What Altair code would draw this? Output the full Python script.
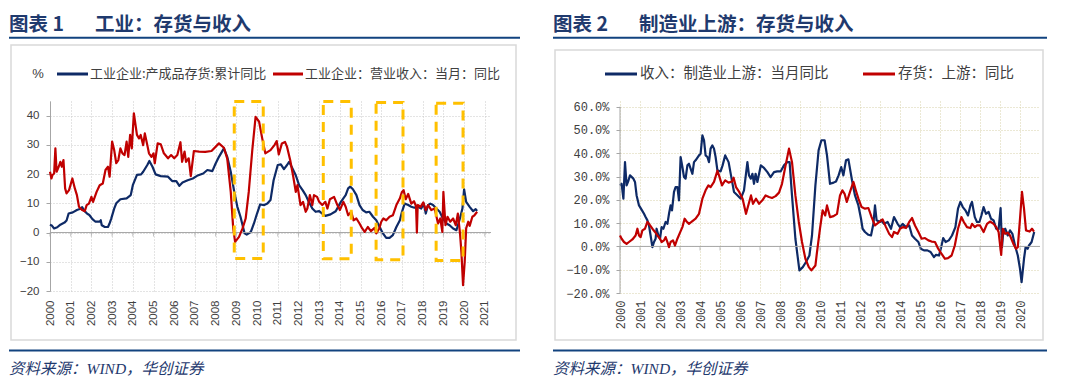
import altair as alt
import pandas as pd

# ---------------- data ----------------
# Left panel: 工业
L_INV_T = [2000.0, 2000.1, 2000.2, 2000.35, 2000.5, 2000.7, 2000.8, 2000.9, 2001.1, 2001.3, 2001.5, 2001.55,
           2001.65, 2001.8, 2001.9, 2002.05, 2002.2, 2002.4, 2002.45, 2002.5, 2002.65, 2002.8, 2002.87, 2002.95,
           2003.1, 2003.2, 2003.4, 2003.7, 2003.9, 2004.0, 2004.2, 2004.4, 2004.5, 2004.7, 2004.8, 2004.95,
           2005.1, 2005.35, 2005.7, 2005.9, 2006.1, 2006.25, 2006.4, 2006.65, 2006.9, 2007.1, 2007.4, 2007.6,
           2007.84, 2008.0, 2008.16, 2008.4, 2008.56, 2008.73, 2008.9, 2009.05, 2009.2, 2009.4, 2009.5, 2009.7,
           2009.85, 2010.0, 2010.15, 2010.35, 2010.5, 2010.65, 2010.8, 2011.0, 2011.15, 2011.3, 2011.45, 2011.55,
           2011.7, 2011.87, 2012.03, 2012.2, 2012.35, 2012.5, 2012.67, 2012.83, 2013.0, 2013.15, 2013.3, 2013.55,
           2013.8, 2014.05, 2014.28, 2014.4, 2014.5, 2014.63, 2014.8, 2014.95, 2015.1, 2015.27, 2015.43, 2015.6,
           2015.76, 2015.92, 2016.08, 2016.24, 2016.4, 2016.56, 2016.73, 2016.9, 2017.0, 2017.13, 2017.3, 2017.45,
           2017.6, 2017.77, 2017.93, 2018.05, 2018.15, 2018.26, 2018.37, 2018.5, 2018.66, 2018.82, 2018.98,
           2019.15, 2019.3, 2019.47, 2019.63, 2019.8, 2019.92, 2020.0, 2020.1, 2020.27, 2020.44, 2020.56, 2020.63]
L_INV_V = [2.7, 2.3, 1.4, 1.8, 2.7, 3.4, 4.1, 6.5, 6.9, 7.7, 8.2, 8.7,
           7.5, 6.4, 6.0, 4.6, 3.7, 3.7, 4.2, 2.5, 1.9, 1.9, 3.0, 4.6,
           8.2, 10.0, 11.4, 11.7, 12.8, 16.2, 19.7, 19.9, 20.8, 23.1, 24.5, 22.5,
           19.9, 19.3, 19.1, 17.6, 17.6, 16.0, 17.1, 17.9, 18.5, 19.4, 20.2, 21.4,
           21.0, 23.6, 25.9, 28.8, 25.9, 20.8, 13.9, 8.8, 5.4, -0.3, -0.7, 0.2,
           3.1, 6.5, 9.6, 9.4, 9.9, 11.1, 17.9, 23.1, 23.3, 21.7, 23.1, 24.2,
           22.1, 19.6, 16.2, 14.5, 12.8, 10.5, 8.2, 7.1, 7.3, 6.5, 5.7, 6.2,
           7.3, 10.5, 12.8, 15.1, 15.7, 14.8, 12.8, 9.4, 7.7, 6.9, 7.1, 5.4,
           4.2, 1.9, -0.3, -1.8, -1.8, -0.9, 1.9, 4.2, 7.1, 9.9, 9.4, 8.8,
           8.5, 8.8, 8.2, 9.9, 6.5, 9.4, 9.9, 9.4, 8.2, 7.1, 4.8,
           3.1, 2.5, 1.4, 0.8, 4.8, 8.2, 14.8, 10.5, 8.8, 7.3, 8.0, 7.4]

L_REV_T = [2000.0, 2000.07, 2000.12, 2000.2, 2000.26, 2000.32, 2000.42, 2000.5, 2000.57, 2000.65, 2000.73, 2000.8,
           2000.92, 2001.08, 2001.2, 2001.3, 2001.4, 2001.55, 2001.68, 2001.77, 2001.88, 2002.0, 2002.08, 2002.25,
           2002.4, 2002.55, 2002.68, 2002.8, 2002.88, 2003.0, 2003.1, 2003.2, 2003.3, 2003.4, 2003.5, 2003.6,
           2003.7, 2003.78, 2003.87, 2003.95, 2004.05, 2004.2, 2004.3, 2004.38, 2004.5, 2004.58, 2004.7, 2004.78,
           2004.9, 2005.0, 2005.06, 2005.2, 2005.35, 2005.5, 2005.7, 2005.85, 2006.0, 2006.15, 2006.3, 2006.38,
           2006.5, 2006.57, 2006.7, 2006.8, 2006.95, 2007.2, 2007.5, 2007.8, 2008.16, 2008.4, 2008.56, 2008.73,
           2008.85, 2008.94, 2009.13, 2009.3, 2009.45, 2009.6, 2009.77, 2009.93, 2010.1, 2010.25, 2010.4, 2010.65,
           2010.85, 2010.95, 2011.05, 2011.2, 2011.35, 2011.45, 2011.6, 2011.75, 2011.87, 2011.95, 2012.1, 2012.22,
           2012.35, 2012.43, 2012.55, 2012.67, 2012.75, 2012.9, 2013.0, 2013.15, 2013.3, 2013.4, 2013.52, 2013.72,
           2013.88, 2014.0, 2014.17, 2014.28, 2014.4, 2014.55, 2014.66, 2014.8, 2014.95, 2015.08, 2015.2, 2015.35,
           2015.5, 2015.68, 2015.76, 2015.9, 2016.0, 2016.1, 2016.24, 2016.4, 2016.56, 2016.73, 2016.9, 2017.0,
           2017.08, 2017.18, 2017.3, 2017.45, 2017.58, 2017.68, 2017.72, 2017.76, 2017.9, 2018.03, 2018.15, 2018.26,
           2018.42, 2018.58, 2018.74, 2018.85, 2018.95, 2019.0, 2019.1, 2019.2, 2019.33, 2019.47, 2019.6, 2019.7,
           2019.8, 2019.87, 2019.95, 2020.03, 2020.1, 2020.2, 2020.27, 2020.4, 2020.5, 2020.63]
L_REV_V = [20.8, 18.5, 19.7, 20.2, 28.8, 20.8, 22.5, 24.2, 22.5, 24.8, 15.1, 13.4,
           14.5, 18.5, 15.1, 12.8, 8.8, 7.7, 7.3, 9.4, 9.9, 12.2, 10.5, 13.9,
           16.2, 16.8, 21.4, 22.5, 19.1, 31.1, 28.2, 23.7, 24.8, 28.8, 27.1, 26.5,
           31.1, 25.9, 33.4, 28.8, 40.8, 33.4, 32.2, 33.4, 29.9, 33.9, 29.9, 27.1,
           25.9, 27.1, 23.7, 30.5, 30.2, 27.1, 25.4, 26.5, 25.4, 26.5, 30.9, 24.2,
           27.7, 24.2, 25.4, 19.3, 27.9, 27.7, 27.6, 27.9, 30.5, 29.0, 25.3, 13.9,
           1.4, -3.2, -1.5, 1.4, 4.8, 13.9, 28.2, 39.6, 37.9, 32.2, 27.1, 28.2,
           30.0, 31.3, 26.7, 30.5, 31.0, 29.3, 24.8, 19.1, 13.9, 16.2, 9.4, 10.5,
           7.1, 8.2, 12.8, 9.4, 12.8, 12.2, 10.5, 9.4, 10.5, 8.2, 11.4, 12.2,
           9.4, 7.7, 10.5, 8.8, 5.9, 7.1, 4.2, 4.8, 3.1, 1.4, 0.2, 1.9,
           0.5, 1.6, -0.3, 1.4, 3.7, 4.8, 4.2, 5.4, 5.9, 9.4, 11.7, 13.9,
           14.5, 11.4, 13.2, 9.9, 10.7, 9.0, 0.0, 9.4, 8.8, 10.3, 7.7, 9.4,
           7.7, 8.2, 3.1, 4.8, 0.2, 13.9, 2.5, 5.4, 3.7, 4.8, 2.5, 6.5,
           0.0, -6.6, -18.0, -10.0, 1.4, 3.7, 2.3, 5.4, 5.9, 7.1]

# Right panel: 制造业上游 (values in %)
R_REV_T = [2000.0, 2000.08, 2000.17, 2000.25, 2000.33, 2000.4, 2000.5, 2000.67, 2000.75, 2000.83, 2000.95, 2001.1,
           2001.2, 2001.28, 2001.37, 2001.45, 2001.53, 2001.62, 2001.7, 2001.78, 2001.83, 2001.92, 2002.0, 2002.08,
           2002.17, 2002.28, 2002.37, 2002.45, 2002.53, 2002.6, 2002.7, 2002.78, 2002.87, 2002.95, 2003.03, 2003.12,
           2003.2, 2003.28, 2003.37, 2003.45, 2003.53, 2003.62, 2003.7, 2003.78, 2003.95, 2004.03, 2004.12, 2004.2,
           2004.28, 2004.37, 2004.45, 2004.53, 2004.62, 2004.7, 2004.78, 2004.87, 2005.03, 2005.13, 2005.26, 2005.43,
           2005.55, 2005.7, 2005.88, 2006.04, 2006.2, 2006.37, 2006.45, 2006.54, 2006.62, 2006.7, 2006.78, 2006.87,
           2007.04, 2007.2, 2007.37, 2007.53, 2007.7, 2007.86, 2008.03, 2008.2, 2008.36, 2008.48, 2008.6, 2008.77,
           2008.97, 2009.14, 2009.3, 2009.47, 2009.6, 2009.77, 2009.93, 2010.07, 2010.23, 2010.35, 2010.5, 2010.68,
           2010.8, 2010.93, 2011.06, 2011.17, 2011.3, 2011.42, 2011.6, 2011.75, 2011.92, 2012.05, 2012.13, 2012.25,
           2012.42, 2012.55, 2012.67, 2012.75, 2012.83, 2013.0, 2013.05, 2013.2, 2013.38, 2013.55, 2013.7, 2013.88,
           2014.0, 2014.13, 2014.3, 2014.46, 2014.6, 2014.75, 2014.92, 2015.04, 2015.2, 2015.37, 2015.53, 2015.7,
           2015.8, 2015.95, 2016.06, 2016.16, 2016.28, 2016.44, 2016.6, 2016.77, 2016.9, 2017.02, 2017.14, 2017.27,
           2017.4, 2017.52, 2017.6, 2017.74, 2017.85, 2017.97, 2018.07, 2018.18, 2018.3, 2018.43, 2018.55, 2018.68,
           2018.81, 2018.93, 2019.03, 2019.1, 2019.17, 2019.26, 2019.39, 2019.5, 2019.62, 2019.75, 2019.89, 2020.0,
           2020.08, 2020.2, 2020.28, 2020.38, 2020.45, 2020.58, 2020.71]
R_REV_V = [26.2, 26.9, 20.5, 36.2, 26.2, 27.7, 30.5, 29.1, 27.7, 21.9, 17.6, 15.5,
           14.0, 12.6, 11.2, 9.0, 4.7, -0.3, 1.9, 3.3, 7.6, 4.7, 3.3, 8.3,
           7.6, 10.5, 9.7, 14.0, 17.6, 15.5, 23.4, 25.5, 25.5, 19.8, 38.4, 34.1,
           29.8, 29.1, 34.8, 35.5, 33.4, 31.2, 36.2, 37.0, 39.1, 39.8, 47.7, 45.6,
           39.1, 38.4, 36.2, 42.0, 43.4, 42.0, 38.4, 32.7, 32.2, 34.8, 39.1, 36.2,
           30.5, 23.4, 21.9, 20.5, 24.1, 36.2, 30.5, 29.1, 31.2, 26.9, 31.2, 27.7,
           34.8, 33.7, 31.9, 29.8, 31.9, 32.2, 32.2, 34.8, 36.2, 36.2, 21.9, 3.3,
           -10.3, -8.9, -6.7, -3.9, 4.7, 26.2, 41.3, 45.6, 45.6, 39.1, 26.9, 27.4,
           27.9, 30.5, 34.1, 30.5, 37.0, 37.4, 28.4, 21.9, 17.6, 11.9, 7.6, 6.2,
           5.0, 4.7, 9.7, 17.6, 11.2, 10.5, 11.2, 9.7, 10.5, 7.6, 12.6, 9.7,
           8.3, 9.7, 8.3, 9.0, 4.7, 3.3, 1.9, -1.0, -1.7, -1.7, -2.4, -4.6,
           -3.6, -3.9, -0.3, 3.6, 1.9, 2.6, 4.7, 8.3, 16.2, 19.1, 16.9, 15.5,
           13.3, 17.6, 19.1, 12.6, 10.5, 10.5, 13.3, 16.9, 14.0, 14.8, 11.9, 11.2,
           7.6, 7.3, 16.5, -0.3, 6.9, 7.6, 4.7, 6.9, 5.4, 0.4, -3.9, -9.6,
           -15.3, -5.3, -0.3, -1.0, 0.4, 1.9, 6.2]

R_INV_T = [2000.0, 2000.08, 2000.2, 2000.33, 2000.45, 2000.62, 2000.78, 2000.87, 2000.95, 2001.03, 2001.12, 2001.25,
           2001.37, 2001.45, 2001.62, 2001.75, 2001.87, 2002.0, 2002.08, 2002.2, 2002.28, 2002.38, 2002.45, 2002.53,
           2002.65, 2002.75, 2002.87, 2003.0, 2003.12, 2003.23, 2003.33, 2003.45, 2003.57, 2003.67, 2003.78, 2003.95,
           2004.12, 2004.28, 2004.42, 2004.53, 2004.7, 2004.87, 2004.95, 2005.1, 2005.26, 2005.43, 2005.6, 2005.68,
           2005.8, 2005.96, 2006.13, 2006.3, 2006.46, 2006.55, 2006.65, 2006.8, 2006.95, 2007.12, 2007.28, 2007.45,
           2007.6, 2007.78, 2007.95, 2008.1, 2008.28, 2008.45, 2008.6, 2008.77, 2008.94, 2009.1, 2009.27, 2009.44,
           2009.57, 2009.77, 2009.85, 2010.0, 2010.13, 2010.26, 2010.35, 2010.5, 2010.68, 2010.85, 2011.0, 2011.12,
           2011.23, 2011.34, 2011.5, 2011.67, 2011.79, 2011.92, 2012.08, 2012.25, 2012.42, 2012.58, 2012.75, 2012.97,
           2013.13, 2013.3, 2013.46, 2013.6, 2013.7, 2013.88, 2014.0, 2014.16, 2014.3, 2014.46, 2014.6, 2014.75,
           2014.92, 2015.08, 2015.25, 2015.42, 2015.58, 2015.75, 2015.91, 2016.08, 2016.25, 2016.4, 2016.58, 2016.74,
           2016.9, 2017.07, 2017.19, 2017.35, 2017.52, 2017.6, 2017.74, 2017.85, 2018.0, 2018.18, 2018.35, 2018.5,
           2018.68, 2018.81, 2018.93, 2019.06, 2019.14, 2019.26, 2019.39, 2019.5, 2019.67, 2019.8, 2019.89, 2020.0,
           2020.1, 2020.2, 2020.3, 2020.48, 2020.6, 2020.7]
R_INV_V = [4.7, 3.3, 1.9, 1.1, 1.9, 3.0, 4.7, 7.6, 4.7, 4.0, 6.9, 7.6,
           10.5, 9.7, 7.6, 6.2, 4.7, 3.3, 1.9, 2.6, 4.0, 1.6, -0.3, 1.9,
           2.6, 0.4, 3.3, 5.9, 8.3, 11.9, 10.7, 9.7, 10.5, 11.2, 11.9, 14.0,
           20.5, 24.1, 26.2, 25.5, 27.7, 32.5, 30.5, 26.2, 28.4, 27.4, 27.9, 29.5,
           25.5, 23.4, 20.5, 14.0, 19.1, 21.9, 18.3, 20.5, 18.3, 19.8, 21.9, 21.2,
           20.8, 21.6, 23.1, 26.9, 34.8, 42.0, 36.2, 21.9, 10.5, 1.9, -5.3, -8.9,
           -10.3, -8.2, -2.4, 7.6, 15.5, 13.3, 17.6, 12.6, 13.0, 14.0, 21.9, 24.1,
           22.6, 19.1, 23.4, 27.7, 24.1, 20.5, 16.9, 16.2, 16.5, 12.6, 9.0, 10.5,
           11.6, 8.3, 5.4, 4.0, 6.2, 5.4, 7.6, 8.3, 7.9, 10.5, 12.2, 9.0,
           6.2, 3.3, 3.6, 2.6, 2.1, 1.9, -1.0, -3.2, -5.3, -5.0, -3.9, 0.4,
           7.6, 12.6, 10.5, 8.3, 7.9, 9.7, 8.3, 9.0, 9.0, 6.2, 9.7, 10.7,
           9.7, 8.3, 6.2, -3.6, 7.6, 5.4, 5.9, 4.7, 1.1, -1.0, -0.3, 11.9,
           23.4, 16.2, 6.9, 6.4, 7.6, 6.4]

# highlighted periods (yellow dashed boxes, left panel)
BOX_X1 = [2008.9, 2013.2, 2015.75, 2018.65]
BOX_X2 = [2010.3, 2014.55, 2017.05, 2019.95]
BOX_Y1 = [-8.9, -9.0, -9.3, -9.6]
BOX_Y2 = [44.8, 44.8, 44.5, 44.2]

L_SERIES = ["工业企业:产成品存货:累计同比", "工业企业：营业收入：当月：同比"]
R_SERIES = ["收入：制造业上游：当月同比", "存货：上游：同比"]
L_TITLE = ["图表 1", "工业：存货与收入"]
R_TITLE = ["图表 2", "制造业上游：存货与收入"]
SOURCE = "资料来源：WIND，华创证券"
L_UNIT = "%"

YEARS_L = list(range(2000, 2022))
YEARS_R = list(range(2000, 2021))
L_YTICKS = [-20, -10, 0, 10, 20, 30, 40]
R_YTICKS = [-0.2, -0.1, 0.0, 0.1, 0.2, 0.3, 0.4, 0.5, 0.6]

# ---------------- styling / layout ----------------
BLUE = "#0E2A66"
RED = "#C00000"
YELLOW = "#FFC000"
HEAD = "#1F3A6E"
RULEBLUE = "#12437F"
GRAY = "#A6A6A6"
CJK = "Noto Sans CJK SC"

L_X0, TOP = 49, 101          # page position of left plot origin
L_W, L_H = 441, 190
R_X0 = 619
R_W, R_H = 420, 192
SPACING = R_X0 - (L_X0 + L_W)

one = pd.DataFrame({"k": [0]})


def series_df(t, v, scale=1.0):
    return pd.DataFrame({"t": t, "v": [x * scale for x in v]})


def text_layer(txt, px, py, x0, size, color, weight="normal", style="normal",
               font=CJK, align="left", baseline="alphabetic"):
    return alt.Chart(one).mark_text(
        text=txt, font=font, fontSize=size, color=color, fontWeight=weight,
        fontStyle=style, align=align, baseline=baseline
    ).encode(x=alt.value(px - x0), y=alt.value(py - TOP))


def rule_px(x1, x2, y, x0, color, width):
    return alt.Chart(one).mark_rule(color=color, strokeWidth=width).encode(
        x=alt.value(x1 - x0), x2=alt.value(x2 - x0), y=alt.value(y - TOP))


def frame_px(x1, y1, x2, y2, x0):
    return alt.Chart(one).mark_rect(fill="transparent", stroke="#D9D9D9", strokeWidth=1.5).encode(
        x=alt.value(x1 - x0), x2=alt.value(x2 - x0), y=alt.value(y1 - TOP), y2=alt.value(y2 - TOP))


def decorations(x0, title, legend_names, leg_pos, legend_size, lx1, lx2, frame_top):
    layers = [
        frame_px(lx1 + 2, frame_top, lx2 - 4, 340, x0),
        text_layer(title[0], lx1, 30.5, x0, 19.5, HEAD, weight="bold"),
        text_layer(title[1], lx1 + 86, 30.5, x0, 19.5, HEAD, weight="bold"),
        rule_px(lx1, lx2, 37.7, x0, RULEBLUE, 2),
        rule_px(lx1, lx2, 350.5, x0, RULEBLUE, 2),
        text_layer(SOURCE, lx1, 374, x0, 15.5, HEAD, style="italic",
                   font="Liberation Serif, " + CJK),
    ]
    (b1, b2, bt, r1, r2, rt) = leg_pos
    layers += [
        rule_px(b1, b2, 74, x0, BLUE, 3),
        text_layer(legend_names[0], bt, 74, x0, legend_size, "#404040", baseline="middle"),
        rule_px(r1, r2, 74, x0, RED, 3),
        text_layer(legend_names[1], rt, 74, x0, legend_size, "#404040", baseline="middle"),
    ]
    return layers


# ---------------- left panel ----------------
xl = alt.Scale(domain=[2000, 2021.3], nice=False, zero=False)
yl = alt.Scale(domain=[-20, 45], nice=False, zero=False)

ax_xl = alt.Axis(values=YEARS_L, format="d", labelAngle=-90, labelFont="Liberation Sans",
                 labelFontSize=11.5, labelColor="#404040", labelPadding=9, ticks=False, tickSize=0,
                 domain=False, grid=True, gridColor="#C8C8C8", gridDash=[1, 2], gridWidth=1,
                 title=None, labelOverlap=False, labelFlush=False)
ax_yl = alt.Axis(values=L_YTICKS, labelFont="Liberation Sans", labelFontSize=11.5, labelColor="#404040",
                 labelPadding=7, ticks=True, tickSize=4, tickColor=GRAY, domain=True, domainColor=GRAY,
                 grid=True, gridColor="#C8C8C8", gridDash=[1, 2], gridWidth=1, title=None,
                 labelFlush=False, labelOverlap=False)

anchor = alt.Chart(one).mark_rect(fill="white").encode(
    x=alt.value(8 - L_X0), x2=alt.value(9 - L_X0), y=alt.value(8 - TOP), y2=alt.value(9 - TOP))

l_blue = alt.Chart(series_df(L_INV_T, L_INV_V)).mark_line(color=BLUE, strokeWidth=2.2, strokeJoin="round").encode(
    x=alt.X("t:Q", scale=xl, axis=ax_xl), y=alt.Y("v:Q", scale=yl, axis=ax_yl))
l_red = alt.Chart(series_df(L_REV_T, L_REV_V)).mark_line(color=RED, strokeWidth=2.2, strokeJoin="round").encode(
    x=alt.X("t:Q", scale=xl, axis=ax_xl), y=alt.Y("v:Q", scale=yl, axis=ax_yl))

l_zero = alt.Chart(one).mark_rule(color=GRAY, strokeWidth=1).encode(
    x=alt.X(datum=2000, scale=xl, axis=ax_xl), x2=alt.X2(datum=2021.3),
    y=alt.Y(datum=0, scale=yl, axis=ax_yl))
l_zticks = alt.Chart(pd.DataFrame({"yr": YEARS_L})).mark_tick(
    orient="vertical", size=4, thickness=1, color=GRAY, yOffset=2).encode(
    x=alt.X("yr:Q", scale=xl, axis=ax_xl), y=alt.Y(datum=0, scale=yl, axis=ax_yl))

boxes = alt.Chart(pd.DataFrame({"x1": BOX_X1, "x2": BOX_X2, "y1": BOX_Y1, "y2": BOX_Y2})).mark_rect(
    fill="transparent", stroke=YELLOW, strokeWidth=3, strokeDash=[10, 7]).encode(
    x=alt.X("x1:Q", scale=xl, axis=ax_xl), x2="x2:Q",
    y=alt.Y("y1:Q", scale=yl, axis=ax_yl), y2="y2:Q")

l_unit = text_layer(L_UNIT, 37, 74, L_X0, 13, "#404040", font="Liberation Sans",
                    align="center", baseline="middle")

left = alt.layer(
    l_blue, anchor,
    *decorations(L_X0, L_TITLE, L_SERIES, (56, 87, 89, 272, 302, 304), 13, 8, 519, 45),
    l_unit, l_zero, l_zticks, l_red, boxes
).properties(width=L_W, height=L_H)

# ---------------- right panel ----------------
xr = alt.Scale(domain=[2000, 2021], nice=False, zero=False)
yr = alt.Scale(domain=[-0.2, 0.6245], nice=False, zero=False)
GRID_R = "#D6D0A8"

ax_xr = alt.Axis(values=YEARS_R, format="d", labelAngle=-90, labelFont="Liberation Mono",
                 labelFontSize=12, labelColor="#404040", labelPadding=7, ticks=False, tickSize=0,
                 domain=False, grid=True, gridColor=GRID_R, gridDash=[1, 2], gridWidth=1,
                 title=None, labelOverlap=False, labelFlush=False)
ax_yr = alt.Axis(values=R_YTICKS, format=".1%", labelFont="Liberation Mono", labelFontSize=12,
                 labelColor="#404040", labelPadding=7, ticks=True, tickSize=4, tickColor=GRAY,
                 domain=False, grid=True, gridColor=GRID_R, gridDash=[1, 2], gridWidth=1, title=None,
                 labelFlush=False, labelOverlap=False)

r_blue = alt.Chart(series_df(R_REV_T, R_REV_V, 0.01)).mark_line(color=BLUE, strokeWidth=2.2, strokeJoin="round").encode(
    x=alt.X("t:Q", scale=xr, axis=ax_xr), y=alt.Y("v:Q", scale=yr, axis=ax_yr))
r_red = alt.Chart(series_df(R_INV_T, R_INV_V, 0.01)).mark_line(color=RED, strokeWidth=2.2, strokeJoin="round").encode(
    x=alt.X("t:Q", scale=xr, axis=ax_xr), y=alt.Y("v:Q", scale=yr, axis=ax_yr))

r_yaxis = alt.Chart(one).mark_rule(color=GRAY, strokeWidth=1).encode(
    x=alt.X(datum=2000, scale=xr, axis=ax_xr),
    y=alt.Y(datum=-0.2, scale=yr, axis=ax_yr), y2=alt.Y2(datum=0.6))
r_zero = alt.Chart(one).mark_rule(color=GRAY, strokeWidth=1).encode(
    x=alt.X(datum=2000, scale=xr, axis=ax_xr), x2=alt.X2(datum=2021),
    y=alt.Y(datum=0, scale=yr, axis=ax_yr))
r_zticks = alt.Chart(pd.DataFrame({"yr": YEARS_R})).mark_tick(
    orient="vertical", size=4, thickness=1, color=GRAY, yOffset=2).encode(
    x=alt.X("yr:Q", scale=xr, axis=ax_xr), y=alt.Y(datum=0, scale=yr, axis=ax_yr))

right = alt.layer(
    r_blue,
    *decorations(R_X0, R_TITLE, R_SERIES, (604, 636, 639, 862, 894, 897), 14.5, 552, 1046, 50),
    r_yaxis, r_zero, r_zticks, r_red
).properties(width=R_W, height=R_H)

chart = alt.hconcat(left, right, spacing=SPACING).properties(
    padding=0, bounds="flush"
).configure_view(strokeWidth=0)

chart.save("out.html", embed_options={"renderer": "svg", "actions": False})
